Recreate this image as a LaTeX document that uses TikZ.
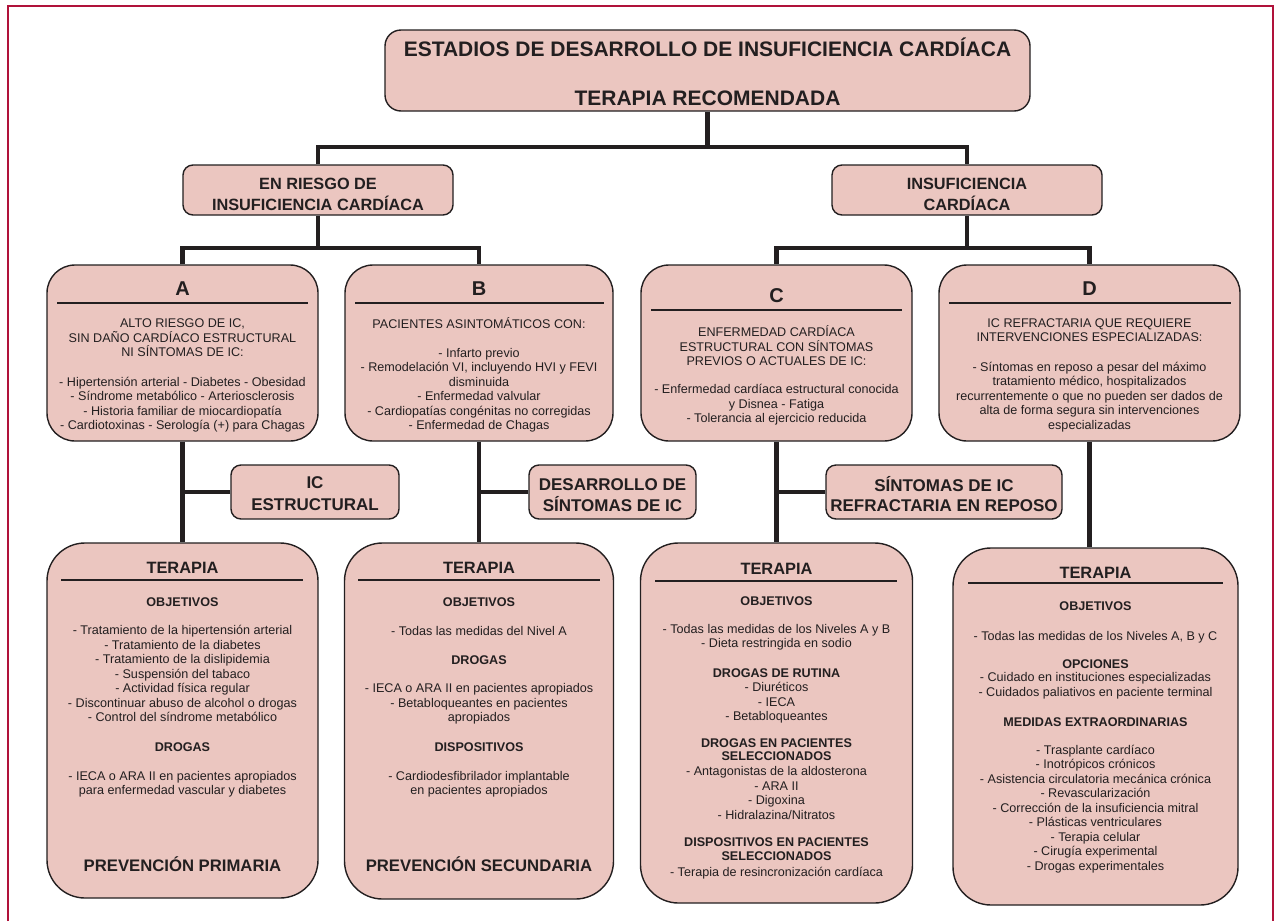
\documentclass[tikz,border=0pt]{standalone}
\usepackage{fontspec}
\setmainfont{Liberation Sans}
\definecolor{boxfill}{RGB}{235,198,192}
\definecolor{boxline}{RGB}{35,31,32}
\definecolor{framec}{RGB}{176,18,58}
\definecolor{ink}{RGB}{35,31,32}
\tikzset{
  box/.style={draw=boxline, fill=boxfill, line width=1.4pt, inner sep=0pt},
  conn/.style={draw=ink, line width=4.5pt},
  rulel/.style={draw=ink, line width=1.8pt},
  body/.style={font={\fontsize{12.6}{14.5}\selectfont\lineskiplimit=-100pt}, text=ink, align=center, inner sep=0pt, execute at begin node=\strut, execute at end node=\strut},
  line/.style={font={\fontsize{12.6}{14.5}\selectfont}, text=ink, inner sep=0pt, anchor=base},
  sub/.style={font={\bfseries\fontsize{12.6}{14.5}\selectfont}, text=ink, inner sep=0pt, anchor=base},
  subg/.style={font={\bfseries\fontsize{12.6}{13.5}\selectfont\lineskiplimit=-100pt}, text=ink, align=center, inner sep=0pt, execute at begin node=\strut, execute at end node=\strut},
  hdr/.style={font={\bfseries\fontsize{20}{24}\selectfont}, text=ink, inner sep=0pt, anchor=base},
  ter/.style={font={\bfseries\fontsize{16.4}{20}\selectfont}, text=ink, inner sep=0pt, anchor=base},
  mid/.style={font={\bfseries\fontsize{17}{20}\selectfont}, text=ink, inner sep=0pt, anchor=base},
  ttl/.style={font={\bfseries\fontsize{21}{24}\selectfont}, text=ink, inner sep=0pt, anchor=base},
  grp/.style={font={\bfseries\fontsize{16.3}{20}\selectfont}, text=ink, inner sep=0pt, anchor=base},
  prev/.style={font={\bfseries\fontsize{16.7}{20}\selectfont}, text=ink, inner sep=0pt, anchor=base}
}
\begin{document}
\begin{tikzpicture}[x=1pt,y=-1pt]
\useasboundingbox (0,0) rectangle (1276,921);
\fill[white] (0,0) rectangle (1276,921);
\draw[framec, line width=2.2pt] (8,921) -- (8,6) -- (1273,6) -- (1273,921);

% boxes
\node[box, minimum width=645pt, minimum height=81pt, rounded corners=16pt] (title) at (707.5,70.5) {};
\node[box, minimum width=270pt, minimum height=50pt, rounded corners=10pt] (er) at (318,190) {};
\node[box, minimum width=270pt, minimum height=50pt, rounded corners=10pt] (hf) at (967,190) {};
\node[box, minimum width=271pt, minimum height=176pt, rounded corners=28pt] (A) at (182.5,353) {};
\node[box, minimum width=268pt, minimum height=176pt, rounded corners=28pt] (B) at (479,353) {};
\node[box, minimum width=271pt, minimum height=176pt, rounded corners=28pt] (C) at (776.5,353) {};
\node[box, minimum width=301pt, minimum height=176pt, rounded corners=28pt] (D) at (1089.5,353) {};
\node[box, minimum width=168pt, minimum height=54pt, rounded corners=10pt] (ice) at (315,492) {};
\node[box, minimum width=167pt, minimum height=54pt, rounded corners=10pt] (des) at (612.5,492) {};
\node[box, minimum width=236pt, minimum height=54pt, rounded corners=10pt] (sin) at (944,492) {};
\node[box, minimum width=271pt, minimum height=355pt, rounded corners=38pt] (TA) at (182.5,720.5) {};
\node[box, minimum width=269pt, minimum height=356pt, rounded corners=38pt] (TB) at (479,721) {};
\node[box, minimum width=272pt, minimum height=360pt, rounded corners=38pt] (TC) at (776.5,723) {};
\node[box, minimum width=285pt, minimum height=357pt, rounded corners=38pt] (TD) at (1095.5,726.5) {};

% connectors
\coordinate (j1) at (707.5,147);
\coordinate (j2) at (318,248);
\coordinate (j3) at (967,248);
\draw[conn] (title.south) -- (j1);
\draw[conn] (er.north) |- (j1) -| (hf.north);
\draw[conn] (er.south) -- (j2);
\draw[conn] (A.north) |- (j2) -| (B.north);
\draw[conn] (hf.south) -- (j3);
\draw[conn] (C.north) |- (j3) -| (D.north);
\draw[conn] (A.south) -- (TA.north);
\draw[conn] (ice.west) -- (ice.west -| A.south);
\draw[conn] (B.south) -- (TB.north);
\draw[conn] (des.west) -- (des.west -| B.south);
\draw[conn] (C.south) -- (TC.north);
\draw[conn] (sin.west) -- (sin.west -| C.south);
\draw[conn] (D.south) -- (D.south |- TD.north);

% rules
\draw[rulel] (57,303) -- (308,303);
\draw[rulel] (355,303) -- (604,303);
\draw[rulel] (651,310) -- (902,310);
\draw[rulel] (949,303) -- (1231,303);
\draw[rulel] (61,580) -- (303,580);
\draw[rulel] (358,580) -- (600,580);
\draw[rulel] (655,581) -- (897,581);
\draw[rulel] (968,583) -- (1223,583);

% title texts
\node[ttl] (t1) at (707.5,56) {ESTADIOS DE DESARROLLO DE INSUFICIENCIA CARDÍACA};
\node[ttl] (t2) at (707.5,105) {TERAPIA RECOMENDADA};
\node[grp] (er1) at (318,189) {EN RIESGO DE};
\node[grp] (er2) at (318,210) {INSUFICIENCIA CARDÍACA};
\node[grp] (hf1) at (967,189) {INSUFICIENCIA};
\node[grp] (hf2) at (967,210) {CARDÍACA};

% stage A
\node[hdr] (Ah) at (182.5,295) {A};
\node[body] (A1) at (182.5,340) {ALTO RIESGO DE IC,\\SIN DAÑO CARDÍACO ESTRUCTURAL\\NI SÍNTOMAS DE IC:};
\node[body] (A2) at (182.5,405.5) {- Hipertensión arterial - Diabetes - Obesidad\\- Síndrome metabólico - Arteriosclerosis\\- Historia familiar de miocardiopatía\\- Cardiotoxinas - Serología (+) para Chagas};

% stage B
\node[hdr] (Bh) at (479,295) {B};
\node[line] (B1) at (479,328.5) {PACIENTES ASINTOMÁTICOS CON:};
\node[body] (B2) at (479,391) {- Infarto previo\\- Remodelación VI, incluyendo HVI y FEVI\\disminuida\\- Enfermedad valvular\\- Cardiopatías congénitas no corregidas\\- Enfermedad de Chagas};

% stage C
\node[hdr] (Ch) at (776.5,302) {C};
\node[body] (C1) at (776.5,348) {ENFERMEDAD CARDÍACA\\ESTRUCTURAL CON SÍNTOMAS\\PREVIOS O ACTUALES DE IC:};
\node[body] (C2) at (776.5,406) {- Enfermedad cardíaca estructural conocida\\y Disnea - Fatiga\\- Tolerancia al ejercicio reducida};

% stage D
\node[hdr] (Dh) at (1089.5,295) {D};
\node[body] (D1) at (1089.5,332.5) {IC REFRACTARIA QUE REQUIERE\\INTERVENCIONES ESPECIALIZADAS:};
\node[body] (D2) at (1089.5,398) {- Síntomas en reposo a pesar del máximo\\tratamiento médico, hospitalizados\\recurrentemente o que no pueden ser dados de\\alta de forma segura sin intervenciones\\especializadas};

% transition boxes
\node[mid] (ice1) at (315,488) {IC};
\node[mid] (ice2) at (315,510) {ESTRUCTURAL};
\node[mid] (des1) at (612.5,490) {DESARROLLO DE};
\node[mid] (des2) at (612.5,511) {SÍNTOMAS DE IC};
\node[mid] (sin1) at (944,491) {SÍNTOMAS DE IC};
\node[mid] (sin2) at (944,511) {REFRACTARIA EN REPOSO};

% therapy A
\node[ter] (TAh) at (182.5,573) {TERAPIA};
\node[sub] (TA1) at (182.5,606.5) {OBJETIVOS};
\node[body] (TA2) at (182.5,675.7) {- Tratamiento de la hipertensión arterial\\- Tratamiento de la diabetes\\- Tratamiento de la dislipidemia\\- Suspensión del tabaco\\- Actividad física regular\\- Discontinuar abuso de alcohol o drogas\\- Control del síndrome metabólico};
\node[sub] (TA3) at (182.5,751.5) {DROGAS};
\node[body] (TA4) at (182.5,785) {- IECA o ARA II en pacientes apropiados\\para enfermedad vascular y diabetes};
\node[prev] (TA5) at (182.5,871) {PREVENCIÓN PRIMARIA};

% therapy B
\node[ter] (TBh) at (479,573) {TERAPIA};
\node[sub] (TB1) at (479,606.5) {OBJETIVOS};
\node[line] (TB2) at (479,635.5) {- Todas las medidas del Nivel A};
\node[sub] (TB3) at (479,664.5) {DROGAS};
\node[body] (TB4) at (479,705) {- IECA o ARA II en pacientes apropiados\\- Betabloqueantes en pacientes\\apropiados};
\node[sub] (TB5) at (479,751.5) {DISPOSITIVOS};
\node[body] (TB6) at (479,785) {- Cardiodesfibrilador implantable\\en pacientes apropiados};
\node[prev] (TB7) at (479,871) {PREVENCIÓN SECUNDARIA};

% therapy C
\node[ter] (TCh) at (776.5,574) {TERAPIA};
\node[sub] (TC1) at (776.5,605.5) {OBJETIVOS};
\node[body] (TC2) at (776.5,638) {- Todas las medidas de los Niveles A y B\\- Dieta restringida en sodio};
\node[sub] (TC3) at (776.5,677.5) {DROGAS DE RUTINA};
\node[body] (TC4) at (776.5,703.7) {- Diuréticos\\- IECA\\- Betabloqueantes};
\node[subg] (TC5) at (776.5,751.5) {DROGAS EN PACIENTES\\SELECCIONADOS};
\node[body] (TC6) at (776.5,795) {- Antagonistas de la aldosterona\\- ARA II\\- Digoxina\\- Hidralazina/Nitratos};
\node[subg] (TC7) at (776.5,851) {DISPOSITIVOS EN PACIENTES\\SELECCIONADOS};
\node[line] (TC8) at (776.5,876) {- Terapia de resincronización cardíaca};

% therapy D
\node[ter] (TDh) at (1095.5,578) {TERAPIA};
\node[sub] (TD1) at (1095.5,610.5) {OBJETIVOS};
\node[line] (TD2) at (1095.5,640) {- Todas las medidas de los Niveles A, B y C};
\node[sub] (TD3) at (1095.5,668.5) {OPCIONES};
\node[body] (TD4) at (1095.5,686.5) {- Cuidado en instituciones especializadas\\- Cuidados paliativos en paciente terminal};
\node[sub] (TD5) at (1095.5,726.5) {MEDIDAS EXTRAORDINARIAS};
\node[body] (TD6) at (1095.5,810) {- Trasplante cardíaco\\- Inotrópicos crónicos\\- Asistencia circulatoria mecánica crónica\\- Revascularización\\- Corrección de la insuficiencia mitral\\- Plásticas ventriculares\\- Terapia celular\\- Cirugía experimental\\- Drogas experimentales};
\end{tikzpicture}
\end{document}
